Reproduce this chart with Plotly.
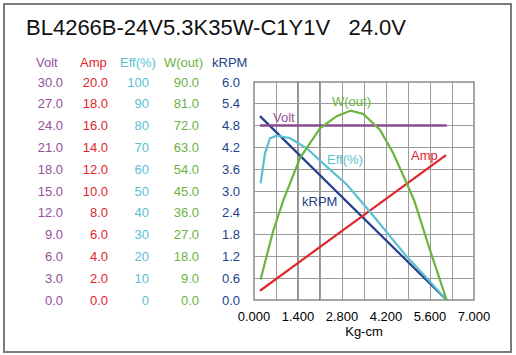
import plotly.graph_objects as go

# ---- data (torque in Kg-cm) ----
volt_x = [0.19, 6.13]
volt_y = [24.0, 24.0]

amp_x = [0.19, 1.42, 3.0, 4.5, 6.11]
amp_y = [0.85, 3.45, 6.75, 9.9, 13.3]

eff_x = [0.21, 0.35, 0.51, 0.72, 1.15, 1.68, 2.31, 2.95, 3.69, 4.30, 4.86, 5.50, 6.13]
eff_y = [53.5, 67.3, 74.2, 75.4, 74.2, 69.6, 61.2, 53.0, 40.5, 30.0, 19.9, 10.0, 0.0]

w_x = [0.21, 0.61, 0.93, 1.46, 2.10, 2.63, 3.08, 3.48, 4.01, 4.43, 4.86, 5.10, 5.60, 6.13]
w_y = [8.5, 28.5, 41.0, 58.5, 70.9, 75.9, 78.2, 76.8, 70.2, 60.6, 48.2, 41.0, 20.6, 0.0]

rpm_x = [0.19, 6.13]
rpm_y = [5.06, 0.0]

title_text = "BL4266B-24V5.3K35W-C1Y1V\u00a0\u00a0\u00a024.0V"

volt_ticks = [0, 3, 6, 9, 12, 15, 18, 21, 24, 27, 30]
amp_ticks = [0, 2, 4, 6, 8, 10, 12, 14, 16, 18, 20]
eff_ticks = [0, 10, 20, 30, 40, 50, 60, 70, 80, 90, 100]
w_ticks = [0, 9, 18, 27, 36, 45, 54, 63, 72, 81, 90]
rpm_ticks = [0, 0.6, 1.2, 1.8, 2.4, 3.0, 3.6, 4.2, 4.8, 5.4, 6.0]
x_ticks = [0, 1.4, 2.8, 4.2, 5.6, 7.0]

# ---- styling ----
FONT = "Liberation Sans, Arial, sans-serif"
C_VOLT = "#94509a"
C_AMP = "#e0262b"
C_EFF = "#5bbfd0"
C_W = "#6cb33f"
C_RPM = "#243f8c"

W, H = 516, 355
L, R, T, B = 0, 42, 82, 55
PW = W - L - R
PH = H - T - B
PLOT_LEFT = 254

def px(xp):
    return xp / PW

def py(yp):
    # pixel from top of figure -> paper y
    return (H - B - yp) / PH

fig = go.Figure()
fig.add_trace(go.Scatter(x=volt_x, y=volt_y, mode="lines", line=dict(color="#8a4a90", width=2.5), yaxis="y2", hoverinfo="skip"))
fig.add_trace(go.Scatter(x=amp_x, y=amp_y, mode="lines", line=dict(color=C_AMP, width=2.2), yaxis="y3", hoverinfo="skip"))
fig.add_trace(go.Scatter(x=eff_x, y=eff_y, mode="lines", line=dict(color=C_EFF, width=2.2), yaxis="y4", hoverinfo="skip"))
fig.add_trace(go.Scatter(x=w_x, y=w_y, mode="lines", line=dict(color=C_W, width=2.2), yaxis="y5", hoverinfo="skip"))
fig.add_trace(go.Scatter(x=rpm_x, y=rpm_y, mode="lines", line=dict(color=C_RPM, width=2.2), yaxis="y", hoverinfo="skip"))

PAD = 2

def yax(ticks, fmt, color, right_edge, **kw):
    d = dict(range=[ticks[0], ticks[-1]], tickvals=ticks, tickformat=fmt,
             tickfont=dict(family=FONT, size=13, color=color),
             anchor="free", position=px(right_edge + PAD), showline=False,
             ticks="", zeroline=False, fixedrange=True)
    d.update(kw)
    return d

fig.update_layout(
    width=W, height=H,
    margin=dict(l=L, r=R, t=T, b=B),
    template="none",
    paper_bgcolor="white", plot_bgcolor="white",
    showlegend=False,
    title=dict(text=title_text, x=26 / W, xanchor="left", xref="container",
               y=1 - 27 / H, yanchor="middle", yref="container",
               font=dict(family=FONT, size=22, color="#111111")),
    xaxis=dict(domain=[px(PLOT_LEFT), 1], range=[0, 7], tickvals=x_ticks, tickformat=".3f",
               tickfont=dict(family=FONT, size=13, color="black"), ticks="",
               ticklabelstandoff=7,
               showgrid=True, gridcolor="#9a9a9a", gridwidth=1,
               minor=dict(dtick=0.7, tick0=0, showgrid=True, gridcolor="#9a9a9a", gridwidth=1),
               zeroline=False, showline=False,
               title=dict(text="Kg-cm", font=dict(family=FONT, size=13, color="black"), standoff=0),
               fixedrange=True),
    yaxis=yax(rpm_ticks, ".1f", C_RPM, 238, showgrid=True, gridcolor="#9a9a9a", gridwidth=1),
    yaxis2=yax(volt_ticks, ".1f", C_VOLT, 61, overlaying="y", showgrid=False),
    yaxis3=yax(amp_ticks, ".1f", C_AMP, 106, overlaying="y", showgrid=False),
    yaxis4=yax(eff_ticks, "d", C_EFF, 147, overlaying="y", showgrid=False),
    yaxis5=yax(w_ticks, ".1f", C_W, 197, overlaying="y", showgrid=False),
)

# plot frame and darker grid lines
fig.add_shape(type="rect", xref="x domain", yref="y domain", x0=0, x1=1, y0=0, y1=1,
              line=dict(color="#8a8a8a", width=1.5), layer="below")
for xv in [1.4, 2.1]:
    fig.add_shape(type="line", xref="x", yref="y domain", x0=xv, x1=xv, y0=0, y1=1,
                  line=dict(color="#222222", width=1), layer="below")

# outer border
fig.add_shape(type="rect", xref="paper", yref="paper",
              x0=px(4), x1=px(511), y0=py(352), y1=py(4),
              line=dict(color="#7a7a7a", width=2))

# column headers
headers = [("Volt", C_VOLT, 47), ("Amp", C_AMP, 93), ("Eff(%)", C_EFF, 138),
           ("W(out)", C_W, 183), ("kRPM", C_RPM, 229)]
for txt, col, cx in headers:
    fig.add_annotation(text=txt, xref="paper", yref="paper", x=px(cx), y=py(62),
                       showarrow=False, xanchor="center", yanchor="middle",
                       font=dict(family=FONT, size=13, color=col))

# in-plot line labels (data coords, kRPM scale)
labels = [("Volt", C_VOLT, 0.95, 5.01), ("W(out)", C_W, 3.11, 5.46), ("Eff(%)", C_EFF, 2.91, 3.88),
          ("Amp", C_AMP, 5.41, 3.99), ("kRPM", C_RPM, 2.07, 2.71)]
for txt, col, lx, ly in labels:
    fig.add_annotation(text=txt, xref="x", yref="y", x=lx, y=ly, showarrow=False,
                       font=dict(family=FONT, size=13, color=col))

fig.write_html("out.html", config={"displayModeBar": False},
               post_script="document.body.style.margin='0';")
